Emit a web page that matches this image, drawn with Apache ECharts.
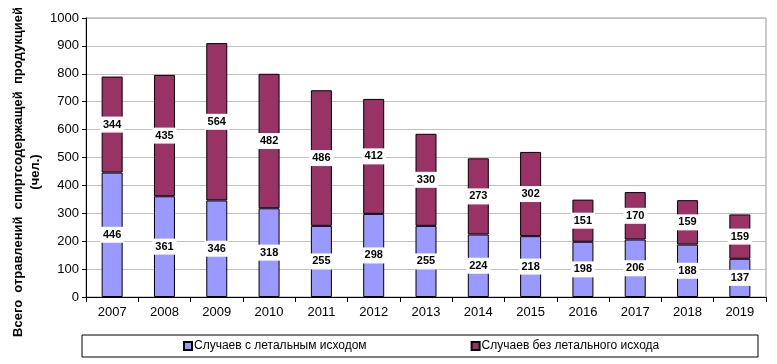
<!DOCTYPE html>
<html>
<head>
<meta charset="utf-8">
<script src="https://cdn.jsdelivr.net/npm/echarts@6/dist/echarts.min.js"></script>
<style>html,body{margin:0;padding:0;background:#fff}#c{width:777px;height:364px}</style>
</head>
<body>
<div id="c"></div>
<script>
const years = ['2007','2008','2009','2010','2011','2012','2013','2014','2015','2016','2017','2018','2019'];
const fatal = [446, 361, 346, 318, 255, 298, 255, 224, 218, 198, 206, 188, 137];
const nonFatal = [344, 435, 564, 482, 486, 412, 330, 273, 302, 151, 170, 159, 159];
const seriesNames = ['Случаев с летальным исходом', 'Случаев без летального исхода'];
const yTitle = ['Всего  отравлений  спиртсодержащей  продукцией', '(чел.)'];

const chart = echarts.init(document.getElementById('c'), null, {renderer: 'canvas'});
const FONT = 'Liberation Sans, Arial, sans-serif';
const label = {
  show: true, position: 'inside', color: '#000', fontFamily: FONT, fontSize: 11, fontWeight: 'bold',
  backgroundColor: '#fff', padding: [3, 3, 2, 3]
};
chart.setOption({
  animation: false,
  grid: {left: 86, right: 11, top: 18, bottom: 67, show: true, borderColor: '#999', borderWidth: 1},
  xAxis: {
    type: 'category', data: years,
    axisLine: {lineStyle: {color: '#000'}},
    axisTick: {show: true, length: 5, lineStyle: {color: '#000'}},
    axisLabel: {color: '#000', fontFamily: FONT, fontSize: 13, margin: 9}
  },
  yAxis: {
    type: 'value', min: 0, max: 1000, interval: 100,
    axisLine: {show: true, lineStyle: {color: '#000'}},
    axisTick: {show: true, length: 4, lineStyle: {color: '#000'}},
    axisLabel: {color: '#000', fontFamily: FONT, fontSize: 13, margin: 7, formatter: v => String(v)},
    splitLine: {lineStyle: {color: '#c0c0c0'}}
  },
  legend: {
    top: 340, left: 183, itemGap: 104, itemWidth: 8, itemHeight: 8,
    icon: 'rect', padding: 0,
    textStyle: {fontFamily: FONT, fontSize: 12, color: '#000', padding: [0, 0, 0, -3]},
    data: seriesNames
  },
  series: [
    {name: seriesNames[0], type: 'bar', stack: 's', data: fatal, barWidth: 21,
     itemStyle: {color: '#9999FF', borderColor: '#000', borderWidth: 1}, label: label},
    {name: seriesNames[1], type: 'bar', stack: 's', data: nonFatal, barWidth: 21,
     itemStyle: {color: '#993366', borderColor: '#000', borderWidth: 1}, label: label}
  ],
  graphic: [
    {type: 'rect', shape: {x: 82, y: 335, width: 676, height: 22}, style: {fill: 'none', stroke: '#000', lineWidth: 1}, z: -1},
    {type: 'text', x: 27, y: 172, rotation: Math.PI / 2,
     style: {text: yTitle.join('\n'), fontFamily: FONT, fontSize: 13, fontWeight: 'bold', fill: '#000',
             align: 'center', verticalAlign: 'middle', lineHeight: 17}}
  ]
});
</script>
</body>
</html>
